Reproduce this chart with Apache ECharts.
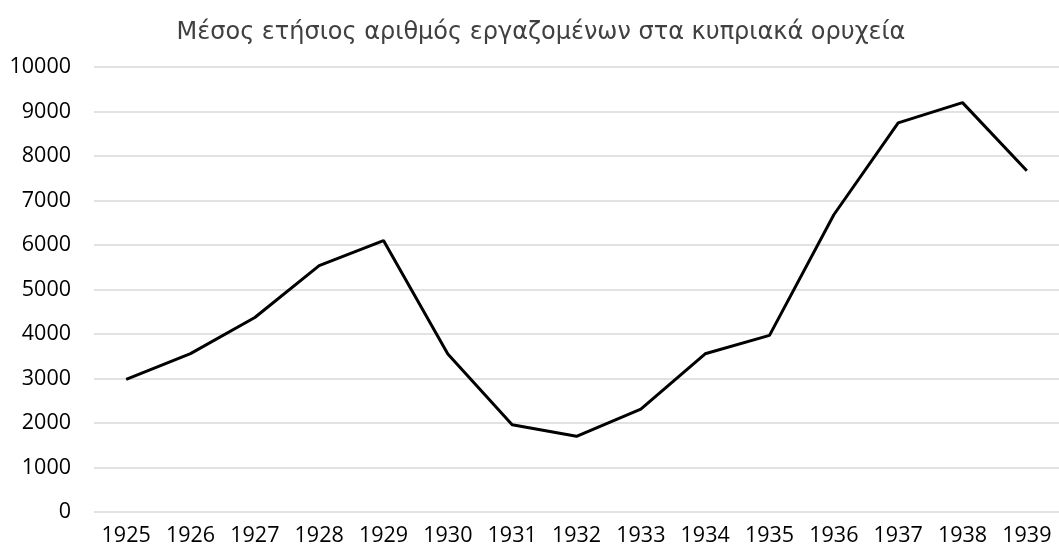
<!DOCTYPE html>
<html>
<head>
<meta charset="utf-8">
<script src="https://cdn.jsdelivr.net/npm/echarts@6/dist/echarts.min.js"></script>
<style>
  html, body { margin: 0; padding: 0; background: #fff; }
  #line { width: 1059px; height: 552px; }
</style>
</head>
<body>
<div id="line"></div>
<script>
// years and average yearly count of miners
var years = ['1925', '1926', '1927', '1928', '1929', '1930', '1931', '1932',
             '1933', '1934', '1935', '1936', '1937', '1938', '1939'];
var workers = [2980, 3560, 4370, 5535, 6100, 3550, 1960, 1700,
               2310, 3555, 3970, 6680, 8745, 9200, 7670];
var chartTitle = 'Μέσος ετήσιος αριθμός εργαζομένων στα κυπριακά ορυχεία';

function linechartMaker() {
    var myChart = echarts.init(document.getElementById('line'));
    myChart.setOption({
        animation: false,
        title: {
            text: chartTitle,
            left: 536,
            textAlign: 'center',
            top: 16,
            textStyle: {
                fontFamily: 'DejaVu Sans',
                fontWeight: 'normal',
                fontSize: 24,
                color: '#404040'
            }
        },
        grid: {
            left: 94,
            top: 67,
            width: 970,
            height: 445
        },
        xAxis: {
            type: 'category',
            data: years,
            boundaryGap: true,
            axisLine: { show: false },
            axisTick: { show: false },
            axisLabel: {
                fontFamily: 'Open Sans',
                fontSize: 21.5,
                color: '#000',
                margin: 13,
                interval: 0
            }
        },
        yAxis: {
            type: 'value',
            min: 0,
            max: 10000,
            interval: 1000,
            axisLine: { show: false },
            axisTick: { show: false },
            axisLabel: {
                fontFamily: 'Open Sans',
                fontSize: 21.5,
                color: '#000',
                margin: 23,
                formatter: function (v) { return String(v); }
            },
            splitLine: {
                show: true,
                lineStyle: { color: '#d9d9d9', width: 1.5 }
            }
        },
        series: [{
            name: 'workers',
            type: 'line',
            symbol: 'none',
            data: workers,
            lineStyle: { color: '#000', width: 3 }
        }]
    });
}

linechartMaker();
</script>
</body>
</html>
